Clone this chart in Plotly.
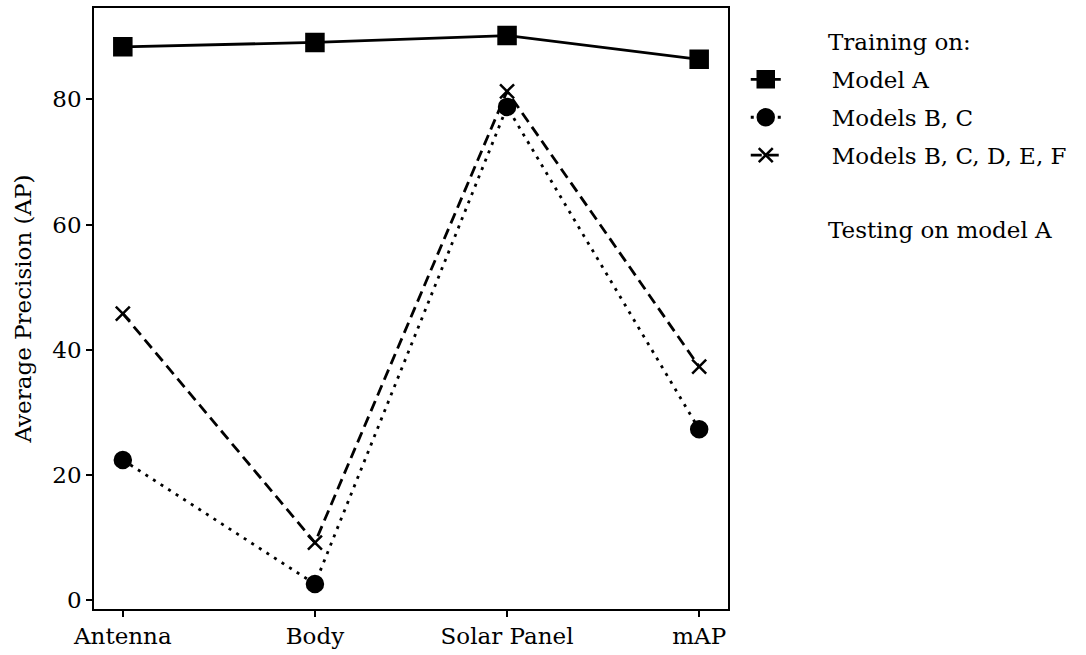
import plotly.graph_objects as go

categories = ["Antenna", "Body", "Solar Panel", "mAP"]
model_a = [88.4, 89.1, 90.2, 86.4]
models_bc = [22.4, 2.6, 78.8, 27.3]
models_bcdef = [45.8, 9.2, 81.3, 37.3]

series_names = ["Model A", "Models B, C", "Models B, C, D, E, F"]
y_ticks = [0, 20, 40, 60, 80]

FONT = "DejaVu Serif"
FS = 23
x_idx = list(range(len(categories)))

fig = go.Figure()
series = [model_a, models_bc, models_bcdef]
dashes = ["solid", "3px,6px", "11px,6px"]
symbols = ["square", "circle", "x-thin-open"]
sizes = [17, 16, 14]
for i in range(3):
    fig.add_trace(go.Scatter(
        x=x_idx, y=series[i], mode="lines+markers",
        name="\u2003\u2003" + series_names[i],
        legendgroup=f"g{i}",
        line=dict(color="black", width=2.8, dash=dashes[i]),
        marker=dict(symbol=symbols[i], size=sizes[i], color="black",
                    line=dict(color="black", width=2.5)),
    ))

fig.update_layout(
    width=1086, height=655,
    margin=dict(l=94, r=358, t=6, b=45),
    plot_bgcolor="white", paper_bgcolor="white",
    font=dict(family=FONT, size=FS, color="black"),
    showlegend=True,
    legend=dict(x=1.028, y=0.917, xanchor="left", yanchor="top",
                font=dict(family=FONT, size=FS), tracegroupgap=5,
                traceorder="grouped", bgcolor="rgba(0,0,0,0)"),
    annotations=[
        dict(text="Training on:", xref="paper", yref="paper", x=1.155, y=0.968,
             xanchor="left", yanchor="top", showarrow=False, font=dict(size=FS)),
        dict(text="Testing on model A", xref="paper", yref="paper", x=1.155, y=0.655,
             xanchor="left", yanchor="top", showarrow=False, font=dict(size=FS)),
    ],
)
fig.update_xaxes(
    range=[-0.15, 3.15], tickmode="array", tickvals=x_idx, ticktext=categories,
    showgrid=False, zeroline=False, showline=True, linecolor="black", linewidth=1.5,
    mirror=True, ticks="outside", ticklen=6, tickwidth=1.5, tickcolor="black",
    tickfont=dict(size=FS),
)
fig.update_yaxes(
    range=[-1.4, 94.6], tickmode="array", tickvals=y_ticks,
    showgrid=False, zeroline=False, showline=True, linecolor="black", linewidth=1.5,
    mirror=True, ticks="outside", ticklen=6, tickwidth=1.5, tickcolor="black",
    tickfont=dict(size=FS),
    title=dict(text="Average Precision (AP)", font=dict(size=FS), standoff=14),
)

fig.write_html("out.html")
